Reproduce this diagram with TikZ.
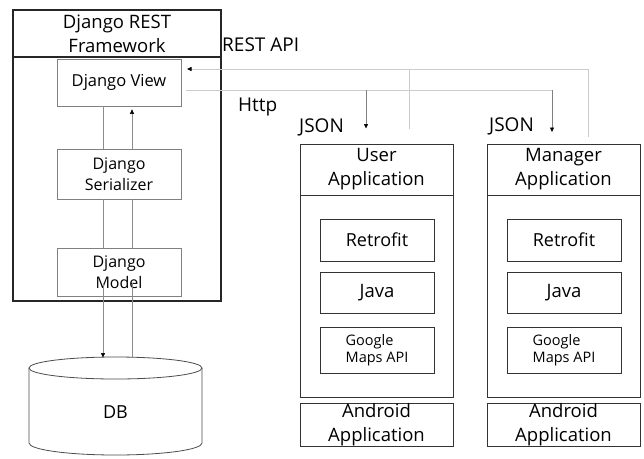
\documentclass[tikz,border=0pt]{standalone}
\usepackage{fontspec}
\setmainfont{Open Sans}
\usetikzlibrary{arrows.meta}
\begin{document}
\begin{tikzpicture}[x=1pt,y=-1pt,
  outer/.style={draw=black!85, line width=1.1pt, inner sep=0pt, align=center},
  appbox/.style={draw=black!80, line width=0.9pt, inner sep=0pt, align=center},
  inbox/.style={draw=black!50, line width=0.7pt, inner sep=0pt, align=center},
  conn/.style={draw=black!20, line width=0.8pt},
  drop/.style={draw=black!50, line width=0.6pt},
  vline/.style={draw=black!45, line width=0.6pt},
  tip/.style={-{Triangle[length=4.5pt,width=4pt,color=black]}},
  lbl/.style={inner sep=0pt, anchor=west},
  fbig/.style={font=\fontsize{18.5}{24}\selectfont},
  fmid/.style={font=\fontsize{16}{21}\selectfont},
  fsml/.style={font=\fontsize{14.5}{17}\selectfont}
]
\useasboundingbox[fill=white] (0,0) rectangle (644,458);

% Django REST Framework
\node[outer, fbig, minimum width=208pt, minimum height=47pt] (fwhead) at (117,33.5) {Django REST\\Framework};
\node[outer, minimum width=208pt, minimum height=244pt] (fwbody) at (117,179) {};

\node[inbox, font=\fontsize{16.5}{21}\selectfont, minimum width=124pt, minimum height=47pt] (view) at (119,82.5) {Django View};
\node[inbox, fmid, minimum width=124pt, minimum height=50pt] (ser) at (119,174) {Django\\Serializer};
\node[inbox, fmid, minimum width=124pt, minimum height=48pt] (model) at (119,272) {Django\\Model};

% DB cylinder
\draw[draw=black!70, line width=0.8pt] (29,368) -- (29,443) arc[start angle=180, end angle=360, x radius=86.5pt, y radius=12pt] -- (202,368);
\draw[draw=black!70, line width=0.8pt] (115.5,368) ellipse [x radius=86.5pt, y radius=11pt];
\node[inner sep=0pt, font=\fontsize{18}{22}\selectfont] (db) at (115.5,412) {DB};
\coordinate (dbl) at (103,357.5);
\coordinate (dbr) at (132,357.5);

% internal Django connectors
\draw[vline] ([xshift=-16pt]view.south) -- ([xshift=-16pt]ser.north);
\draw[vline] ([xshift=-16pt]ser.south) -- ([xshift=-16pt]model.north);
\draw[vline, tip] ([xshift=-16pt,yshift=13pt]model.south) -- (dbl);
\draw[vline] (dbr) -- ([xshift=13pt,yshift=13pt]model.south);
\draw[vline] ([xshift=13pt]model.north) -- ([xshift=13pt]ser.south);
\draw[vline, tip] ([xshift=13pt]ser.north) -- ([xshift=13pt,yshift=-3pt]view.south);

% User application
\node[appbox, fbig, minimum width=153pt, minimum height=51pt] (uhead) at (376.5,169.5) {User\\Application};
\node[appbox, minimum width=153pt, minimum height=202pt] (ubody) at (376.5,296) {};
\node[appbox, font=\fontsize{18}{22}\selectfont, minimum width=114pt, minimum height=42pt] (uretro) at (377,240) {Retrofit};
\node[appbox, font=\fontsize{18.5}{22}\selectfont, minimum width=114pt, minimum height=41pt] (ujava) at (377,292.5) {Java};
\node[appbox, fsml, align=left, minimum width=114pt, minimum height=46pt] (umaps) at (377,350) {Google\\Maps API};
\node[appbox, fbig, minimum width=153pt, minimum height=42pt] (uand) at (376.5,425) {Android\\Application};

% Manager application
\node[appbox, fbig, minimum width=153pt, minimum height=51pt] (mhead) at (563.5,169.5) {Manager\\Application};
\node[appbox, minimum width=153pt, minimum height=202pt] (mbody) at (563.5,296) {};
\node[appbox, font=\fontsize{18}{22}\selectfont, minimum width=114pt, minimum height=42pt] (mretro) at (564,240) {Retrofit};
\node[appbox, font=\fontsize{18.5}{22}\selectfont, minimum width=114pt, minimum height=41pt] (mjava) at (564,292.5) {Java};
\node[appbox, fsml, align=left, minimum width=114pt, minimum height=46pt] (mmaps) at (564,350) {Google\\Maps API};
\node[appbox, fbig, minimum width=153pt, minimum height=42pt] (mand) at (563.5,425) {Android\\Application};

% labels
\node[lbl, font=\fontsize{19}{22}\selectfont] (restlbl) at (222,45) {REST API};
\node[lbl, font=\fontsize{19}{22}\selectfont] (httplbl) at (238,107) {Http};
\node[lbl, font=\fontsize{19}{22}\selectfont] (ujson) at (299,127.5) {JSON};
\node[lbl, font=\fontsize{19}{22}\selectfont] (mjson) at (489,126) {JSON};

% REST / Http connectors
\coordinate (vin) at (187,69);
\coordinate (vout) at (186,90);
\coordinate (uup) at (409,129);
\coordinate (mup) at (588,137);
\coordinate (ujs) at (366,128.5);
\coordinate (mjs) at (552,132);

\draw[conn, tip] (mup) |- (vin);
\draw[conn] (uup) -- (uup |- vin);
\draw[conn] (vout) -- (vout -| mjs);
\draw[drop, tip] (vout -| ujs) -- (ujs);
\draw[drop, tip] (vout -| mjs) -- (mjs);
\end{tikzpicture}
\end{document}
